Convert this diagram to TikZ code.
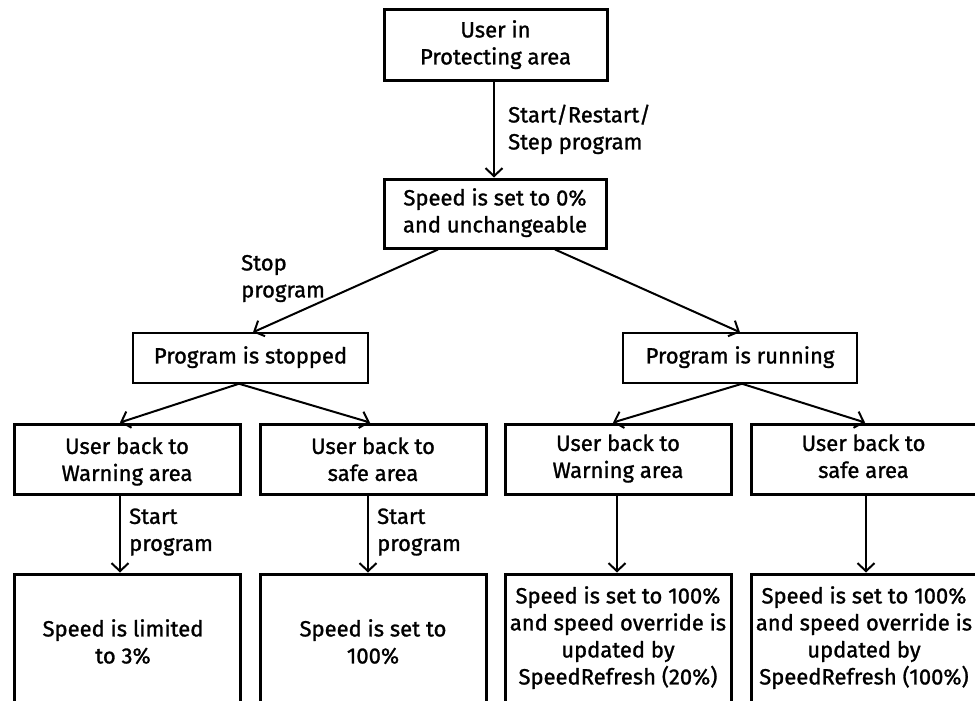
\documentclass[tikz,border=0pt]{standalone}
\usepackage{fontspec}
\setmainfont{Fira Sans}[FakeBold=1.2]
\usetikzlibrary{arrows.meta,calc}
\newcommand{\fz}{\fontsize{22}{27}\selectfont}
\begin{document}
\begin{tikzpicture}[x=1pt,y=-1pt,
  thickbox/.style={draw,line width=3pt,minimum width=#1,inner sep=0pt,align=center,font=\fz},
  thinbox/.style={draw,line width=1.5pt,minimum width=#1,minimum height=50pt,inner sep=0pt,align=center,font=\fz},
  txt/.style={inner sep=0pt,align=center,font=\fz},
  lbl/.style={inner sep=0pt,align=left,anchor=west,font=\fz},
  conn/.style={line width=2pt,-{Straight Barb[length=8pt,width=17pt,line width=2pt]}}]
\useasboundingbox (0,0) rectangle (975,701);
\clip (0,0) rectangle (975,701);
% boxes
\node[thickbox=223pt,minimum height=71pt] (top) at (495.5,45.5) {\strut User in\\\strut Protecting area};
\node[thickbox=222pt,minimum height=69pt] (zero) at (495,213.5) {\strut Speed is set to 0\%\\\strut and unchangeable};
\node[thinbox=235pt] (stopped) at (250.5,358) {\strut Program is stopped};
\node[thinbox=234pt] (running) at (740,358) {\strut Program is running};
\node[thickbox=226pt,minimum height=70pt] (uw1) at (127,459) {};
\node[thickbox=226pt,minimum height=70pt] (us1) at (373,459) {};
\node[thickbox=226pt,minimum height=70pt] (uw2) at (618,459) {};
\node[thickbox=225pt,minimum height=70pt] (us2) at (863.5,459) {};
\node[txt] (tw1) at (127,462) {\strut User back to\\\strut Warning area};
\node[txt] (ts1) at (373,462) {\strut User back to\\\strut safe area};
\node[txt] (tw2) at (618,459) {\strut User back to\\\strut Warning area};
\node[txt] (ts2) at (863.5,459) {\strut User back to\\\strut safe area};
\node[thickbox=226pt,minimum height=150pt] (b1) at (127,649) {};
\node[thickbox=226pt,minimum height=150pt] (b2) at (373,649) {};
\node[thickbox=226pt,minimum height=150pt] (b3) at (618,649) {};
\node[thickbox=225pt,minimum height=150pt] (b4) at (863.5,649) {};
\node[txt] (t1) at (123,644.5) {\strut Speed is limited\\\strut to 3\%};
\node[txt] (t2) at (373,644.5) {\strut Speed is set to\\\strut 100\%};
\node[txt] (t3) at (618,638.5) {\strut Speed is set to 100\%\\\strut and speed override is\\\strut updated by\\\strut SpeedRefresh (20\%)};
\node[txt] (t4) at (864,638.5) {\strut Speed is set to 100\%\\\strut and speed override is\\\strut updated by\\\strut SpeedRefresh (100\%)};
% labels
\node[lbl] (l1) at (508,130.5) {\strut Start/Restart/\\\strut Step program};
\node[lbl] (l2) at (241,278.5) {\strut Stop\\\strut program};
\node[lbl] (l3) at (129,532) {\strut Start\\\strut program};
\node[lbl] (l4) at (377,532) {\strut Start\\\strut program};
% connectors
\draw[conn] ($(top.south)+(-1.5,0)$) -- ($(zero.north)+(-1,0)$);
\draw[conn] ($(zero.south)+(-57,0)$) -- ($(stopped.north)+(2.5,0)$);
\draw[conn] ($(zero.south)+(60,0)$) -- (running.north);
\draw[conn] ($(stopped.south)+(-11.5,0)$) -- ($(uw1.north)+(-7,0)$);
\draw[conn] ($(stopped.south)+(-11.5,0)$) -- ($(us1.north)+(-3,0)$);
\draw[conn] ($(running.south)+(2,0)$) -- ($(uw2.north)+(-5,0)$);
\draw[conn] ($(running.south)+(2,0)$) -- ($(us2.north)+(1.5,0)$);
\draw[conn] ($(uw1.south)+(-7,0)$) -- ($(b1.north)+(-7,0)$);
\draw[conn] ($(us1.south)+(-5,0)$) -- ($(b2.north)+(-5,0)$);
\draw[conn] ($(uw2.south)+(-1,0)$) -- ($(b3.north)+(-1,0)$);
\draw[conn] ($(us2.south)+(2.5,0)$) -- ($(b4.north)+(2.5,0)$);
\end{tikzpicture}
\end{document}
